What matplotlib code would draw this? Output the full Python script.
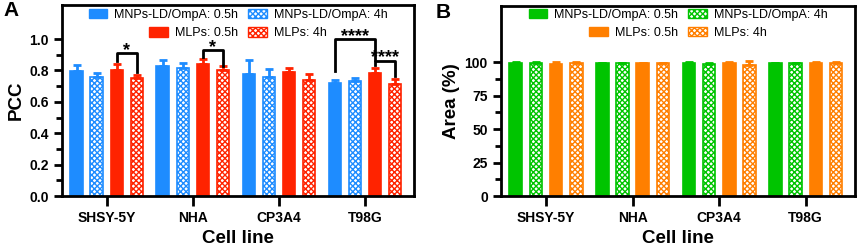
import numpy as np
import matplotlib.pyplot as plt
from matplotlib.patches import Patch

plt.rcParams['font.family'] = ['Liberation Sans', 'DejaVu Sans']
plt.rcParams['hatch.linewidth'] = 1.0

cell_lines = ['SHSY-5Y', 'NHA', 'CP3A4', 'T98G']
series_labels = ['MNPs-LD/OmpA: 0.5h', 'MNPs-LD/OmpA: 4h', 'MLPs: 0.5h', 'MLPs: 4h']

# panel A: PCC (mean, upper error)
pcc_mnp_05 = [0.796, 0.830, 0.777, 0.720]
pcc_mnp_05_err = [0.038, 0.034, 0.089, 0.020]
pcc_mnp_4 = [0.760, 0.813, 0.756, 0.733]
pcc_mnp_4_err = [0.025, 0.034, 0.051, 0.020]
pcc_mlp_05 = [0.800, 0.840, 0.792, 0.785]
pcc_mlp_05_err = [0.040, 0.035, 0.025, 0.032]
pcc_mlp_4 = [0.750, 0.800, 0.740, 0.715]
pcc_mlp_4_err = [0.020, 0.026, 0.037, 0.028]

# panel B: Area (%)
area_mnp_05 = [99.5, 99.6, 99.5, 99.6]
area_mnp_05_err = [0.8, 0.0, 0.8, 0.0]
area_mnp_4 = [99.5, 99.6, 98.8, 99.5]
area_mnp_4_err = [0.6, 0.0, 0.8, 0.0]
area_mlp_05 = [98.6, 99.6, 99.6, 99.7]
area_mlp_05_err = [1.6, 0.0, 0.5, 0.4]
area_mlp_4 = [99.5, 99.5, 98.2, 99.6]
area_mlp_4_err = [0.6, 0.0, 3.0, 0.4]

blue, red = '#1E8CFF', '#FF2300'
green, orange = '#00C400', '#FF7F00'

offsets = [-0.35, -0.117, 0.117, 0.35]
width = 0.145


def draw_bars(ax, series, errs, colors, hatched):
    x = np.arange(len(cell_lines))
    for i, (vals, err) in enumerate(zip(series, errs)):
        c = colors[i]
        xs = x + offsets[i]
        if hatched[i]:
            ax.bar(xs, vals, width, facecolor='white', edgecolor=c, hatch='xxxxxx', lw=1.2, zorder=2)
        else:
            ax.bar(xs, vals, width, color=c, edgecolor=c, lw=1.2, zorder=2)
        ax.errorbar(xs, vals, yerr=[np.zeros(len(vals)), err], fmt='none', ecolor=c,
                    elinewidth=2, capsize=3, capthick=2, zorder=3)


def style_axes(ax, ylabel):
    for s in ax.spines.values():
        s.set_linewidth(2)
    ax.set_xticks(np.arange(len(cell_lines)))
    ax.set_xticklabels(cell_lines, fontweight='bold', fontsize=10)
    ax.tick_params(axis='both', width=2, length=6, labelsize=10)
    ax.tick_params(axis='y', which='minor', width=2, length=4)
    ax.tick_params(axis='x', length=7)
    for lab in ax.get_yticklabels():
        lab.set_fontweight('bold')
    ax.set_xlim(-0.52, 3.57)
    ax.set_xlabel('Cell line', fontsize=13.5, fontweight='bold', labelpad=4)
    ax.set_ylabel(ylabel, fontsize=13.5, fontweight='bold', labelpad=3)


def add_legends(ax, colors, y1, y2):
    h1 = [Patch(facecolor=colors[0], edgecolor=colors[0]),
          Patch(facecolor='white', edgecolor=colors[1], hatch='xxxxxx')]
    h2 = [Patch(facecolor=colors[2], edgecolor=colors[2]),
          Patch(facecolor='white', edgecolor=colors[3], hatch='xxxxxx')]
    kw = dict(ncol=2, loc='center', frameon=False, fontsize=9, handlelength=1.5,
              handleheight=0.8, handletextpad=0.55, columnspacing=0.8, borderpad=0)
    leg1 = ax.legend(h1, series_labels[:2], bbox_to_anchor=(0.5, y1), **kw)
    ax.add_artist(leg1)
    ax.legend(h2, series_labels[2:], bbox_to_anchor=(0.5, y2), **kw)


def bracket(ax, x1, x2, y, h1, h2, text, ty):
    ax.plot([x1, x1, x2, x2], [y - h1, y, y, y - h2], color='black', lw=2, zorder=4)
    ax.text((x1 + x2) / 2, ty, text, ha='center', va='center', fontsize=13, fontweight='bold')


fig = plt.figure(figsize=(8.58, 2.48), dpi=100)
axA = fig.add_axes([62 / 858, 1 - 196 / 248, 352 / 858, 191 / 248])
axB = fig.add_axes([501 / 858, 1 - 196 / 248, 354 / 858, 190 / 248])

# panel A
draw_bars(axA, [pcc_mnp_05, pcc_mnp_4, pcc_mlp_05, pcc_mlp_4],
          [pcc_mnp_05_err, pcc_mnp_4_err, pcc_mlp_05_err, pcc_mlp_4_err],
          [blue, blue, red, red], [False, True, False, True])
axA.set_ylim(0, 1.217)
axA.set_yticks([0, 0.2, 0.4, 0.6, 0.8, 1.0])
axA.set_yticks(np.arange(0.1, 1.1, 0.2), minor=True)
style_axes(axA, 'PCC')
add_legends(axA, [blue, blue, red, red], 0.948, 0.853)
bracket(axA, 0 + offsets[2], 0 + offsets[3], 0.91, 0.05, 0.12, '*', 0.925)
bracket(axA, 1 + offsets[2], 1 + offsets[3], 0.928, 0.04, 0.10, '*', 0.945)
bracket(axA, 3 + offsets[0], 3 + offsets[2], 0.998, 0.20, 0.13, '****', 1.015)
bracket(axA, 3 + offsets[2], 3 + offsets[3], 0.862, 0.03, 0.10, '****', 0.88)
fig.text(3 / 858, 1 - 11 / 248, 'A', fontsize=15, fontweight='bold', va='center', ha='left')

# panel B
draw_bars(axB, [area_mnp_05, area_mnp_4, area_mlp_05, area_mlp_4],
          [area_mnp_05_err, area_mnp_4_err, area_mlp_05_err, area_mlp_4_err],
          [green, green, orange, orange], [False, True, False, True])
axB.set_ylim(0, 142)
axB.set_yticks([0, 25, 50, 75, 100])
axB.set_yticks([12.5, 37.5, 62.5, 87.5], minor=True)
style_axes(axB, 'Area (%)')
add_legends(axB, [green, green, orange, orange], 0.953, 0.858)
fig.text(436 / 858, 1 - 13 / 248, 'B', fontsize=15, fontweight='bold', va='center', ha='left')

fig.savefig('out.png', dpi=100)
